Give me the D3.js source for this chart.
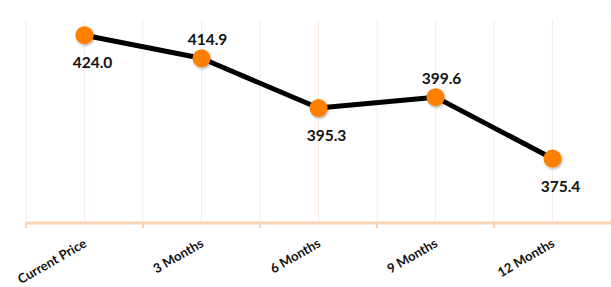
<!DOCTYPE html>
<html>
<head>
<meta charset="UTF-8" />
<script src="https://cdn.jsdelivr.net/npm/d3@7"></script>
<style>
  body { margin: 0; background: #fff; }
  svg { display: block; }
  .lbl { font-family: Lato, "Open Sans", sans-serif; font-weight: 700; fill: #111; }
</style>
</head>
<body>
<div id="chart"></div>
<script>
const categories = ["Current Price", "3 Months", "6 Months", "9 Months", "12 Months"];
const prices = [424.0, 414.9, 395.3, 399.6, 375.4];
const labelSide = ["below", "above", "below", "above", "below"];

const w = 611, h = 287;
const m = { top: 20, right: 0, bottom: 64, left: 26 };

const svg = d3.select("#chart").append("svg").attr("width", w).attr("height", h);

const defs = svg.append("defs");
const f = defs.append("filter").attr("id", "sh").attr("x", "-50%").attr("y", "-50%").attr("width", "200%").attr("height", "200%");
f.append("feDropShadow").attr("dx", 1).attr("dy", 1.5).attr("stdDeviation", 1.2).attr("flood-color", "#000").attr("flood-opacity", 0.3);

const x = d3.scaleBand().domain(categories).range([m.left, w - m.right]);
const y = d3.scaleLinear().domain([350, 430]).range([h - m.bottom, m.top]);

// light vertical gridlines at band centres and edges
const gridX = [];
categories.forEach((c, i) => {
  gridX.push(x(c));
  gridX.push(x(c) + x.bandwidth() / 2);
});
gridX.push(w - m.right);
svg.append("g").selectAll("line").data(gridX).enter().append("line")
  .attr("x1", d => d).attr("x2", d => d)
  .attr("y1", m.top).attr("y2", h - m.bottom)
  .attr("stroke", "#fcebe0").attr("stroke-width", 1);

// x axis
const xAxis = svg.append("g").attr("transform", `translate(0,${h - m.bottom})`);
xAxis.append("line").attr("x1", m.left).attr("x2", w).attr("y1", 0).attr("y2", 0)
  .attr("stroke", "#fcd3b3").attr("stroke-width", 3);
xAxis.selectAll(".tk").data(categories).enter().append("line")
  .attr("x1", d => x(d)).attr("x2", d => x(d)).attr("y1", 0).attr("y2", 5)
  .attr("stroke", "#fcd3b3").attr("stroke-width", 2);
xAxis.selectAll("text").data(categories).enter().append("text")
  .attr("class", "lbl").attr("font-size", 13)
  .attr("text-anchor", "end")
  .attr("transform", d => `translate(${x(d) + x.bandwidth() / 2 + 3},${23}) rotate(-30)`)
  .text(d => d);

const pts = categories.map((c, i) => ({ c, v: prices[i], side: labelSide[i] }));
const cx = d => x(d.c) + x.bandwidth() / 2;

svg.append("path").datum(pts)
  .attr("d", d3.line().x(cx).y(d => y(d.v)))
  .attr("fill", "none").attr("stroke", "#000").attr("stroke-width", 5)
  .attr("stroke-linejoin", "round");

svg.append("g").selectAll("circle").data(pts).enter().append("circle")
  .attr("cx", cx).attr("cy", d => y(d.v)).attr("r", 9)
  .attr("fill", "#ff7f00").attr("filter", "url(#sh)");

svg.append("g").selectAll("text").data(pts).enter().append("text")
  .attr("class", "lbl").attr("font-size", 15.5).attr("text-anchor", "middle")
  .attr("x", d => cx(d) + (d.side === "below" ? 8 : 6))
  .attr("y", d => y(d.v) + (d.side === "below" ? 33 : -13))
  .text(d => d.v.toFixed(1));
</script>
</body>
</html>
